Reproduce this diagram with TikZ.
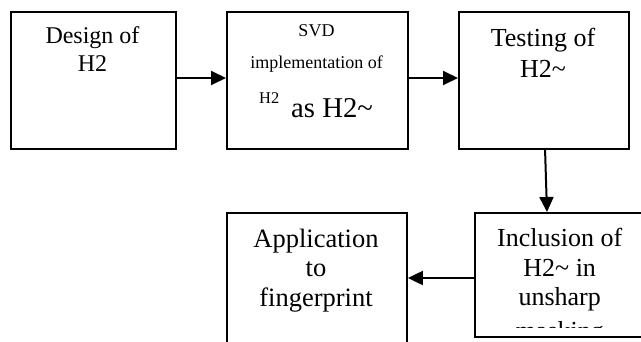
\documentclass[tikz,border=0pt]{standalone}
\usepackage{fontspec}
\setmainfont{Liberation Serif}
\usetikzlibrary{arrows.meta}
\tikzset{
  boxnode/.style={draw, line width=1.9pt, inner sep=0pt, anchor=north west},
  txt/.style={inner sep=0pt, anchor=base},
  conn/.style={line width=2pt, -{Triangle[length=15pt,width=14pt]}},
}
\newcommand{\fs}[1]{\fontsize{#1}{#1}\selectfont}
\begin{document}
\begin{tikzpicture}[x=1pt,y=-1pt]
\useasboundingbox (0,0) rectangle (641,342);
\clip (0,0) rectangle (641,342);
\fill[white] (0,0) rectangle (641,342);
% boxes
\node[boxnode, minimum width=165pt, minimum height=137pt] (b1) at (10,11) {};
\node[boxnode, minimum width=181pt, minimum height=137pt] (b2) at (226,11) {};
\node[boxnode, minimum width=170pt, minimum height=137pt] (b3) at (458,11) {};
\node[boxnode, minimum width=180pt, minimum height=150pt] (b4) at (226,212) {};
\node[boxnode, minimum width=171pt, minimum height=124pt] (b5) at (474,212) {};
% texts
\node[txt] (t1a) at (92.5,44) {\fs{24}Design of};
\node[txt] (t1b) at (92.5,72) {\fs{24}H2};
\node[txt] (t2a) at (316.5,37) {\fs{18}SVD};
\node[txt] (t2b) at (316.5,69) {\fs{18}implementation of};
\node[txt, anchor=base west] (t2c) at (259,104) {\fs{16.4}H2};
\node[txt, anchor=base west] (t2d) at (291,118) {\fs{28.7}as H2\char`~};
\node[txt] (t3a) at (543,47) {\fs{26}Testing of};
\node[txt] (t3b) at (543,78) {\fs{26}H2\char`~};
\node[txt] (t4a) at (316,248) {\fs{26.5}Application};
\node[txt] (t4b) at (316,277) {\fs{26.5}to};
\node[txt] (t4c) at (316,307) {\fs{26.5}fingerprint};
\node[txt] (t5a) at (559.7,247) {\fs{26}Inclusion of};
\node[txt] (t5b) at (559.7,277) {\fs{26}H2\char`~{} in};
\node[txt] (t5c) at (559.7,306) {\fs{26}unsharp};
\begin{scope}
\clip (474,212) rectangle (645,327.5);
\node[txt] (t5d) at (559.7,340) {\fs{26}masking};
\end{scope}
% connectors
\coordinate (a1) at (175,78);
\coordinate (a2) at (407,78);
\draw[conn] (a1) -- (a1 -| b2.west);
\draw[conn] (a2) -- (a2 -| b3.west);
\coordinate (d1) at (545,148);
\coordinate (d2) at (547,212);
\draw[conn] (d1) -- (d2);
\coordinate (la) at (474,278);
\draw[conn] (la) -- (la -| b4.east);
\end{tikzpicture}
\end{document}
